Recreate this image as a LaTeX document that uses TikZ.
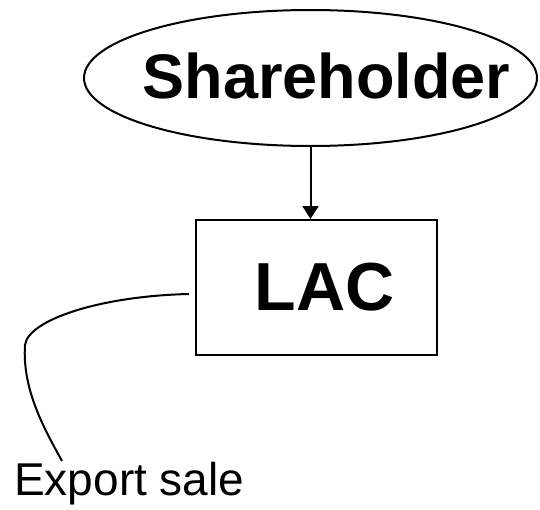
\documentclass[tikz,border=0pt]{standalone}
\usepackage{fontspec}
\setmainfont{Liberation Sans}
\usetikzlibrary{shapes.geometric, arrows.meta}

\tikzset{
    holderbox/.style = {draw, ellipse, line width = 2pt, inner sep = 0pt,
        minimum width = 453pt, minimum height = 136pt},
    companybox/.style = {draw, rectangle, line width = 2pt, inner sep = 0pt,
        minimum width = 241pt, minimum height = 135pt,
        font = \fontsize{68}{68}\selectfont\bfseries},
    flowline/.style = {line width = 2pt},
}

\begin{document}
\begin{tikzpicture}[x = 1pt, y = -1pt]

    \useasboundingbox (0,0) rectangle (540,509);

    %% Owner on top
    \node [holderbox] (holder) at (310.5,78) {};
    \node [anchor = base, inner sep = 0pt,
        font = \fontsize{63}{63}\selectfont\bfseries]
    (holderText) at ([shift = {(16pt,-20pt)}]holder.center) {Shareholder};

    %% Company box
    \node [companybox] (lac) at (316.5,287.5) {\hspace*{16pt}LAC};

    \draw [flowline, -{Triangle[length = 13pt, width = 16pt]}]
    (holder.south) -- (holder.south |- lac.north)
    ;

    %% Sale going out to the left
    \node [anchor = base west, inner sep = 0pt,
        font = \fontsize{46}{46}\selectfont] (sale) at (14,495) {Export sale};

    \coordinate (saleEnd) at (62,461);

    \draw [flowline]
    ([shift = {(-6pt,-6.5pt)}]lac.west)
    .. controls (100,296) and (28,320) .. (25,345)
    .. controls (22,390) and (45,430) .. (saleEnd)
    ;

\end{tikzpicture}
\end{document}
